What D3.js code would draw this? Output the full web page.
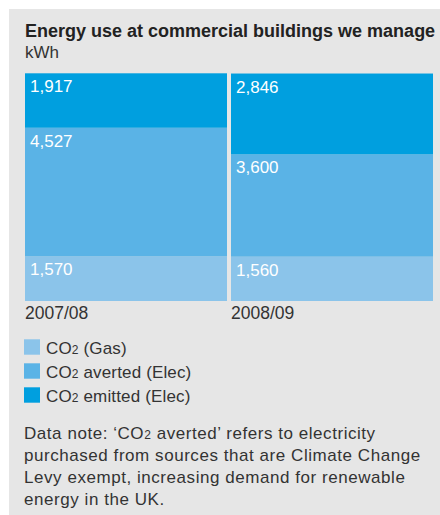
<!DOCTYPE html>
<html>
<head>
<meta charset="utf-8">
<script src="https://cdn.jsdelivr.net/npm/d3@7"></script>
<style>
  html, body { margin: 0; padding: 0; background: #fff; }
  svg { display: block; }
  text { font-family: "Liberation Sans", Arial, Helvetica, sans-serif; }
</style>
</head>
<body>
<svg id="chart" width="440" height="515"></svg>
<script>
// Years shown as stacked columns
const categories = ["2007/08", "2008/09"];
// Stack layers, bottom to top
const seriesKeys = ["gas", "averted", "emitted"];
const seriesNames = ["(Gas)", "averted (Elec)", "emitted (Elec)"];
// kWh values per layer, one per year
const gasValues = [1570, 1560];
const avertedValues = [4527, 3600];
const emittedValues = [1917, 2846];
const seriesColors = ["#8bc4ea", "#5ab3e6", "#009fdf"];
const noteLines = [
  "Data note: \u2018CO\u2082 averted\u2019 refers to electricity",
  "purchased from sources that are Climate Change",
  "Levy exempt, increasing demand for renewable",
  "energy in the UK."
];

const rows = categories.map((c, i) => ({
  year: c,
  gas: gasValues[i],
  averted: avertedValues[i],
  emitted: emittedValues[i]
}));

const svg = d3.select("#chart");
const textColor = "#333333";

// panel background
svg.append("rect")
  .attr("x", 9).attr("y", 9)
  .attr("width", 431).attr("height", 506)
  .attr("fill", "#e6e6e6");

// heading
svg.append("text")
  .attr("x", 25).attr("y", 36.7)
  .attr("font-size", 18).attr("font-weight", "bold")
  .attr("fill", "#222")
  .text("Energy use at commercial buildings we manage");
svg.append("text")
  .attr("x", 25).attr("y", 57.5)
  .attr("font-size", 17)
  .attr("fill", textColor)
  .text("kWh");

const stacked = d3.stack().keys(seriesKeys)(rows);
const totals = rows.map(r => seriesKeys.reduce((s, k) => s + r[k], 0));

const x = d3.scaleBand()
  .domain(categories)
  .range([25, 433])
  .paddingInner(4 / 206)
  .paddingOuter(0);

const y = d3.scaleLinear()
  .domain([0, d3.max(totals)])
  .range([301, 73.3]);

const color = d3.scaleOrdinal().domain(seriesKeys).range(seriesColors);

const layers = svg.append("g").selectAll("g")
  .data(stacked)
  .join("g")
  .attr("fill", d => color(d.key));

layers.selectAll("rect")
  .data(d => d)
  .join("rect")
  .attr("x", d => x(d.data.year))
  .attr("y", d => y(d[1]))
  .attr("width", x.bandwidth())
  .attr("height", d => y(d[0]) - y(d[1]));

// value labels in the top-left corner of each segment
const fmt = d3.format(",");
layers.selectAll("text")
  .data(d => d.map(v => ({ v, key: d.key })))
  .join("text")
  .attr("x", d => x(d.v.data.year) + 5)
  .attr("y", d => y(d.v[1]) + 19)
  .attr("font-size", 17)
  .attr("fill", "#ffffff")
  .text(d => fmt(d.v.data[d.key]));

// year labels under the columns
svg.append("g").selectAll("text")
  .data(categories)
  .join("text")
  .attr("x", d => x(d))
  .attr("y", 319.3)
  .attr("font-size", 17.5)
  .attr("fill", textColor)
  .text(d => d);

// legend
const legend = svg.append("g").selectAll("g")
  .data(seriesKeys)
  .join("g")
  .attr("transform", (d, i) => `translate(24, ${339.3 + i * 24})`);

legend.append("rect")
  .attr("width", 16).attr("height", 15.4)
  .attr("fill", d => color(d));

const legendText = legend.append("text")
  .attr("x", 22).attr("y", 15)
  .attr("font-size", 17)
  .attr("fill", textColor)
  .attr("letter-spacing", 0.15);
legendText.append("tspan").text("CO");
legendText.append("tspan").attr("font-size", 12).text("2");
legendText.append("tspan").text((d, i) => " " + seriesNames[i]);

// data note
noteLines.forEach((line, i) => {
  const t = svg.append("text")
    .attr("x", 24).attr("y", 439.3 + i * 22)
    .attr("font-size", 17)
    .attr("letter-spacing", 0.55)
    .attr("fill", textColor);
  const parts = line.split("\u2082");
  if (parts.length > 1) {
    t.append("tspan").text(parts[0]);
    t.append("tspan").attr("font-size", 12).text("2");
    t.append("tspan").text(parts[1]);
  } else {
    t.text(line);
  }
});
</script>
</body>
</html>
